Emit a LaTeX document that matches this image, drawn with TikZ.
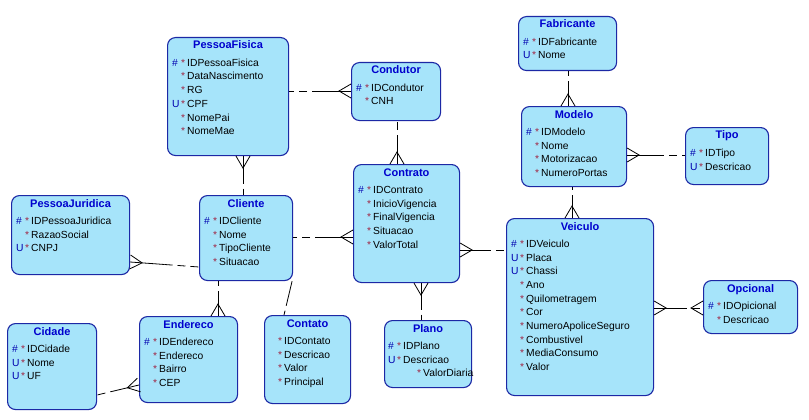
\documentclass[tikz,border=0pt]{standalone}
\usepackage{fontspec}
\setmainfont{Liberation Sans}
\usetikzlibrary{calc}
\definecolor{boxfill}{RGB}{166,228,250}
\definecolor{boxdraw}{RGB}{28,40,165}
\definecolor{titc}{RGB}{0,0,205}
\definecolor{keyc}{RGB}{0,0,175}
\definecolor{starc}{RGB}{160,40,70}
\newcommand\keymk[1]{\makebox[9pt][l]{\color{keyc}#1}\makebox[6pt][l]{\color{starc}*}}
\newcommand\erentity[6]{%
  \node[ent, anchor=north west, minimum width=#4pt, minimum height=#5pt] (#1) at (#2,#3) {};
  \node[ttl, anchor=base] (#1-t) at ($(#1.north)+(0,12)$) {#6};
}
\newcommand\erfields[3]{%
  \foreach \t [count=\i] in {#3} {
    \node[fld, anchor=base west] (#1-\i) at ($(#1.north west)+(#2,{29.3+13.7*(\i-1)})$) {\t};
  }
}
\newcommand\errel[2]{%
  \draw[conn] (#1) -- ($(#1)!0.5!(#2)$);
  \draw[conn, dash pattern=on 8pt off 5pt] ($(#1)!0.5!(#2)$) -- (#2);
}
\newcommand\crowfoot[2]{%
  \draw[conn] ($(#1)!7pt!90:(#2)$) -- ($(#1)!12pt!(#2)$) -- ($(#1)!7pt!-90:(#2)$);
}
\tikzset{
  ent/.style={draw=boxdraw, fill=boxfill, line width=1.1pt, rounded corners=8pt, inner sep=0pt},
  ttl/.style={text=titc, font=\bfseries\fontsize{11}{13}\selectfont, inner sep=0pt},
  fld/.style={font=\fontsize{10.3}{12}\selectfont, inner sep=0pt},
  conn/.style={draw=black, line width=0.8pt},
}
\begin{document}
\begin{tikzpicture}[x=1pt,y=-1pt]
\useasboundingbox (0,0) rectangle (809,420);
\fill[white] (0,0) rectangle (809,420);

% entities
\erentity{pf}{167}{37}{121}{118}{PessoaFisica}
\erfields{pf}{5}{\keymk{\#}IDPessoaFisica,\keymk{}DataNascimento,\keymk{}RG,\keymk{U}CPF,\keymk{}NomePai,\keymk{}NomeMae}

\erentity{cond}{351}{62}{89}{58}{Condutor}
\erfields{cond}{5}{\keymk{\#}IDCondutor,\keymk{}CNH}

\erentity{contr}{353}{164}{106}{118}{Contrato}
\erfields{contr}{5}{\keymk{\#}IDContrato,\keymk{}InicioVigencia,\keymk{}FinalVigencia,\keymk{}Situacao,\keymk{}ValorTotal}

\erentity{fab}{518}{16}{98}{54}{Fabricante}
\erfields{fab}{5}{\keymk{\#}IDFabricante,\keymk{U}Nome}

\erentity{mod}{521}{106}{105}{80}{Modelo}
\erfields{mod}{5}{\keymk{\#}IDModelo,\keymk{}Nome,\keymk{}Motorizacao,\keymk{}NumeroPortas}

\erentity{tipo}{685}{127}{83}{57}{Tipo}
\erfields{tipo}{5}{\keymk{\#}IDTipo,\keymk{U}Descricao}

\erentity{opc}{703}{280}{94}{53}{Opcional}
\erfields{opc}{5}{\keymk{\#}IDOpicional,\keymk{}Descricao}

\erentity{vei}{506}{218}{147}{177}{Veiculo}
\erfields{vei}{5}{\keymk{\#}IDVeiculo,\keymk{U}Placa,\keymk{U}Chassi,\keymk{}Ano,\keymk{}Quilometragem,\keymk{}Cor,\keymk{}NumeroApoliceSeguro,\keymk{}Combustivel,\keymk{}MediaConsumo,\keymk{}Valor}

\erentity{pj}{11}{195}{118}{79}{PessoaJuridica}
\erfields{pj}{5}{\keymk{\#}IDPessoaJuridica,\keymk{}RazaoSocial,\keymk{U}CNPJ}

\erentity{cli}{199}{195}{93}{85}{Cliente}
\erfields{cli}{5}{\keymk{\#}IDCliente,\keymk{}Nome,\keymk{}TipoCliente,\keymk{}Situacao}

\erentity{cid}{7}{323}{89}{86}{Cidade}
\erfields{cid}{5}{\keymk{\#}IDCidade,\keymk{U}Nome,\keymk{U}UF}

\erentity{end}{139}{316}{98}{86}{Endereco}
\erfields{end}{5}{\keymk{\#}IDEndereco,\keymk{}Endereco,\keymk{}Bairro,\keymk{}CEP}

\erentity{cont}{264}{315}{86}{88}{Contato}
\erfields{cont}{5}{\keymk{}IDContato,\keymk{}Descricao,\keymk{}Valor,\keymk{}Principal}

\erentity{plano}{384}{320}{87}{67}{Plano}
\erfields{plano}{4}{\keymk{\#}IDPlano,\keymk{U}Descricao}
\node[fld, anchor=base west] (plano-3) at ($(plano.north west)+(24,{29.3+27.4})$) {\keymk{}ValorDiaria};

% connector end points
\coordinate (r1a) at ($(pf.north east)+(0,54)$);
\coordinate (r1b) at ($(cond.north west)+(0,29)$);
\coordinate (r2a) at ($(pf.south west)+(76,0)$);
\coordinate (r2b) at ($(cli.north west)+(44,0)$);
\coordinate (r3a) at ($(cond.south west)+(46,0)$);
\coordinate (r3b) at ($(contr.north west)+(44,0)$);
\coordinate (r4a) at ($(cli.north east)+(0,42)$);
\coordinate (r4b) at ($(contr.north west)+(0,73)$);
\coordinate (r5a) at ($(pj.north east)+(0,67)$);
\coordinate (r5b) at ($(cli.north west)+(0,72)$);
\coordinate (r6a) at ($(cli.south west)+(19,0)$);
\coordinate (r6b) at ($(end.north west)+(79,0)$);
\coordinate (r7a) at ($(cid.north east)+(0,72)$);
\coordinate (r7b) at ($(end.north west)+(0,69)$);
\coordinate (r8a) at ($(cli.south east)+(-1,0)$);
\coordinate (r8b) at ($(cont.north west)+(20,0)$);
\coordinate (r9a) at ($(contr.south west)+(68,0)$);
\coordinate (r9b) at ($(plano.north west)+(37,0)$);
\coordinate (r10a) at ($(contr.north east)+(0,86)$);
\coordinate (r10b) at ($(vei.north west)+(0,32)$);
\coordinate (r11a) at ($(mod.south west)+(51,0)$);
\coordinate (r11b) at ($(vei.north west)+(66,0)$);
\coordinate (r12a) at ($(fab.south west)+(50,0)$);
\coordinate (r12b) at ($(mod.north west)+(47,0)$);
\coordinate (r13a) at ($(mod.north east)+(0,49)$);
\coordinate (r13b) at ($(tipo.north west)+(0,28)$);
\coordinate (r14a) at ($(vei.north east)+(0,90)$);
\coordinate (r14b) at ($(opc.north west)+(0,28)$);

% relationships
\errel{r1b}{r1a} \crowfoot{r1b}{r1a}
\errel{r2a}{r2b} \crowfoot{r2a}{r2b}
\errel{r3b}{r3a} \crowfoot{r3b}{r3a}
\errel{r4b}{r4a} \crowfoot{r4b}{r4a}
\errel{r5a}{r5b} \crowfoot{r5a}{r5b}
\errel{r6b}{r6a} \crowfoot{r6b}{r6a}
\errel{r7b}{r7a} \crowfoot{r7b}{r7a}
\errel{r8a}{r8b}
\errel{r9a}{r9b} \crowfoot{r9a}{r9b}
\errel{r10a}{r10b} \crowfoot{r10a}{r10b}
\errel{r11b}{r11a} \crowfoot{r11b}{r11a}
\errel{r12b}{r12a} \crowfoot{r12b}{r12a}
\errel{r13a}{r13b} \crowfoot{r13a}{r13b}
\errel{r14a}{r14b} \crowfoot{r14a}{r14b} \crowfoot{r14b}{r14a}
\end{tikzpicture}
\end{document}
